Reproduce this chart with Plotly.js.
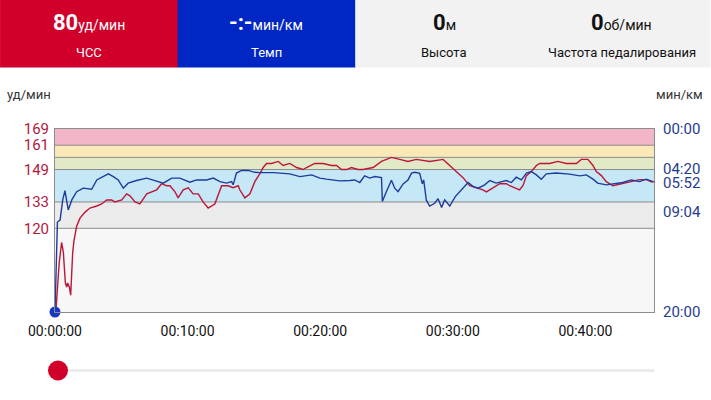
<!DOCTYPE html>
<html>
<head>
<meta charset="utf-8">
<script src="https://cdn.plot.ly/plotly-3.0.1.min.js"></script>
<style>
html,body{margin:0;padding:0;background:#fff;}
#chart{width:711px;height:400px;}
</style>
</head>
<body>
<div id="chart"></div>
<script>
// ---- data ----
const hrTimes = [4,19,30,38,42,47,53,57,65,71,80,86,98,113,136,158,189,211,234,256,271,302,324,339,362,384,415,437,460,482,505,520,543,557,580,603,625,648,670,693,723,754,783,806,829,836,859,882,904,927,942,957,980,1010,1032,1062,1093,1123,1138,1175,1213,1251,1274,1296,1319,1341,1371,1394,1439,1477,1522,1560,1597,1635,1680,1695,1756,1786,1816,1846,1876,1907,1936,1952,1982,2012,2042,2057,2102,2117,2133,2155,2178,2193,2238,2275,2313,2359,2381,2411,2434,2449,2472,2494,2524,2569,2614,2645,2675,2698,2710];
const hrValues = [79,103,113,108,101,93,91,93,91,87,108,114,121,125,128,130,131,132,134,134,133,134,137,136,133,132,137,138,139,142,141,141,138,135,139,140,137,137,133,130,132,141,141,140,141,139,135,137,143,147,150,152,152,153,151,152,150,149,150,152,152,151,151,149,149,150,149,149,150,153,155,154,153,154,153,153,154,151,148,145,141,140,139,138,140,142,142,141,139,141,146,148,151,152,152,153,152,152,154,154,151,148,146,143,141,142,143,144,144,143,143];

const paceTimes = [0,11,23,35,45,53,60,76,98,128,166,189,218,241,264,286,309,331,369,415,452,490,528,565,610,641,686,716,746,776,799,806,821,844,874,904,927,987,1062,1108,1161,1198,1228,1288,1334,1356,1379,1401,1424,1447,1477,1481,1499,1522,1537,1552,1575,1597,1613,1628,1650,1662,1668,1680,1695,1718,1733,1749,1763,1786,1811,1839,1869,1891,1914,1944,1967,1996,2027,2042,2065,2087,2110,2133,2155,2178,2200,2223,2268,2328,2374,2404,2434,2455,2494,2532,2569,2607,2645,2675,2705];
const paceValues = [1200,610,597,465,404,487,531,465,411,388,395,334,312,294,312,334,388,355,338,322,338,355,322,322,349,334,334,322,345,355,345,366,289,272,271,284,286,286,294,312,301,322,329,340,338,334,351,307,322,312,318,476,411,336,388,411,360,334,289,284,291,360,334,467,505,487,457,514,465,505,443,399,351,376,388,366,338,355,345,338,351,316,334,289,279,301,329,294,289,296,307,301,329,355,366,360,351,334,345,329,345];

// heart-rate zone boundaries (bpm)
const zoneBounds = [78.7, 120, 133, 149, 155, 161, 169];
const zoneColors = ['#f7f7f7','#ebebeb','#c6e7f6','#e1e9c6','#fbe8b8','#f3b5c8'];

const hrTickVals = [120, 133, 149, 161, 169];
const paceTickVals = [0, 260, 352, 544, 1200];
const paceTickText = ['00:00','04:20','05:52','09:04','20:00'];
const timeTickVals = [0, 600, 1200, 1800, 2400];
const timeTickText = ['00:00:00','00:10:00','00:20:00','00:30:00','00:40:00'];
const timeRange = [0, 2710];

const headerValues = ['80', '-:-', '0', '0'];
const headerUnits = ['уд/мин', 'мин/км', 'м', 'об/мин'];
const headerLabels = ['ЧСС', 'Темп', 'Высота', 'Частота педалирования'];
const headerFills = ['#d0002b', '#0027c4', '#f2f2f2', '#f2f2f2'];
const headerInk = ['#ffffff', '#ffffff', '#111111', '#111111'];

// ---- layout geometry (pixels) ----
const L = 55, R = 654.5, T = 129.3, B = 311.7, W = 711, H = 400;
const px = x => (x - L) / (R - L);
const py = y => (B - y) / (B - T);

const shapes = [];
const annotations = [];

// zones
for (let i = 0; i < zoneColors.length; i++) {
  shapes.push({type:'rect', xref:'paper', yref:'y', x0:0, x1:1, y0:zoneBounds[i], y1:zoneBounds[i+1],
    fillcolor:zoneColors[i], line:{width:0}, layer:'below'});
}
for (let i = 1; i < zoneBounds.length - 1; i++) {
  shapes.push({type:'line', xref:'paper', yref:'y', x0:0, x1:1, y0:zoneBounds[i], y1:zoneBounds[i],
    line:{color:'#8c8c8c', width:1}, layer:'below'});
}

// header boxes
const cellW = W / 4;
for (let i = 0; i < 4; i++) {
  shapes.push({type:'rect', xref:'paper', yref:'paper', x0:px(i*cellW), x1:px((i+1)*cellW + (i<3?0.5:0)),
    y0:py(68), y1:py(0), fillcolor:headerFills[i], line:{width:0}, layer:'above'});
  const cx = px(i*cellW + cellW/2);
  annotations.push({xref:'paper', yref:'paper', x:cx, y:py(23), xanchor:'center', yanchor:'middle', showarrow:false,
    text:'<b>' + headerValues[i] + '</b><span style="font-size:14px">' + headerUnits[i] + '</span>',
    font:{family:'Roboto, sans-serif', size:22, color:headerInk[i]}});
  annotations.push({xref:'paper', yref:'paper', x:cx, y:py(53), xanchor:'center', yanchor:'middle', showarrow:false,
    text:headerLabels[i], font:{family:'Roboto, sans-serif', size:13, color:headerInk[i]}});
}

// axis unit labels
annotations.push({xref:'paper', yref:'paper', x:px(5), y:py(95), xanchor:'left', yanchor:'middle', showarrow:false,
  text:'уд/мин', font:{family:'Roboto, sans-serif', size:13, color:'#333'}});
annotations.push({xref:'paper', yref:'paper', x:px(706), y:py(95), xanchor:'right', yanchor:'middle', showarrow:false,
  text:'мин/км', font:{family:'Roboto, sans-serif', size:13, color:'#333'}});

// slider
shapes.push({type:'line', xref:'paper', yref:'paper', x0:px(58), x1:px(655), y0:py(370), y1:py(370),
  line:{color:'#ececec', width:3}});
shapes.push({type:'circle', xref:'paper', yref:'paper', xsizemode:'pixel', ysizemode:'pixel',
  xanchor:px(58), yanchor:py(370), x0:-10, x1:10, y0:-10, y1:10, fillcolor:'#d0002b', line:{width:0}});

const traces = [
  {x:paceTimes, y:paceValues, yaxis:'y2', type:'scatter', mode:'lines',
   line:{color:'#1d3d9b', width:1.4}, hoverinfo:'skip'},
  {x:hrTimes, y:hrValues, type:'scatter', mode:'lines',
   line:{color:'#be1538', width:1.4}, hoverinfo:'skip'},
  {x:[paceTimes[0]], y:[paceValues[0]], yaxis:'y2', type:'scatter', mode:'markers',
   marker:{color:'#1537c2', size:11}, cliponaxis:false, hoverinfo:'skip'}
];

const layout = {
  width:W, height:H,
  margin:{l:L, r:W-R, t:T, b:H-B, pad:0},
  paper_bgcolor:'#ffffff', plot_bgcolor:'#f7f7f7',
  showlegend:false,
  font:{family:'Roboto, sans-serif'},
  xaxis:{range:timeRange, tickvals:timeTickVals, ticktext:timeTickText, showgrid:false, zeroline:false,
    showline:true, linecolor:'#8c8c8c', linewidth:1, mirror:true, ticks:'', ticklabelstandoff:6,
    tickfont:{family:'Roboto, sans-serif', size:14, color:'#111'}, fixedrange:true},
  yaxis:{range:[zoneBounds[0], zoneBounds[zoneBounds.length-1]], tickvals:hrTickVals, showgrid:false, zeroline:false,
    showline:true, linecolor:'#8c8c8c', linewidth:1, ticks:'', ticklabelstandoff:2,
    tickfont:{family:'Roboto, sans-serif', size:15, color:'#b01a3d'}, fixedrange:true},
  yaxis2:{range:[1200, 0], overlaying:'y', side:'right', tickvals:paceTickVals, ticktext:paceTickText,
    showgrid:false, zeroline:false, showline:true, linecolor:'#8c8c8c', linewidth:1, ticks:'', ticklabelstandoff:5,
    tickfont:{family:'Roboto, sans-serif', size:15, color:'#1f3c8f'}, fixedrange:true},
  shapes:shapes,
  annotations:annotations
};

Plotly.newPlot('chart', traces, layout, {displayModeBar:false, staticPlot:true});
</script>
</body>
</html>
